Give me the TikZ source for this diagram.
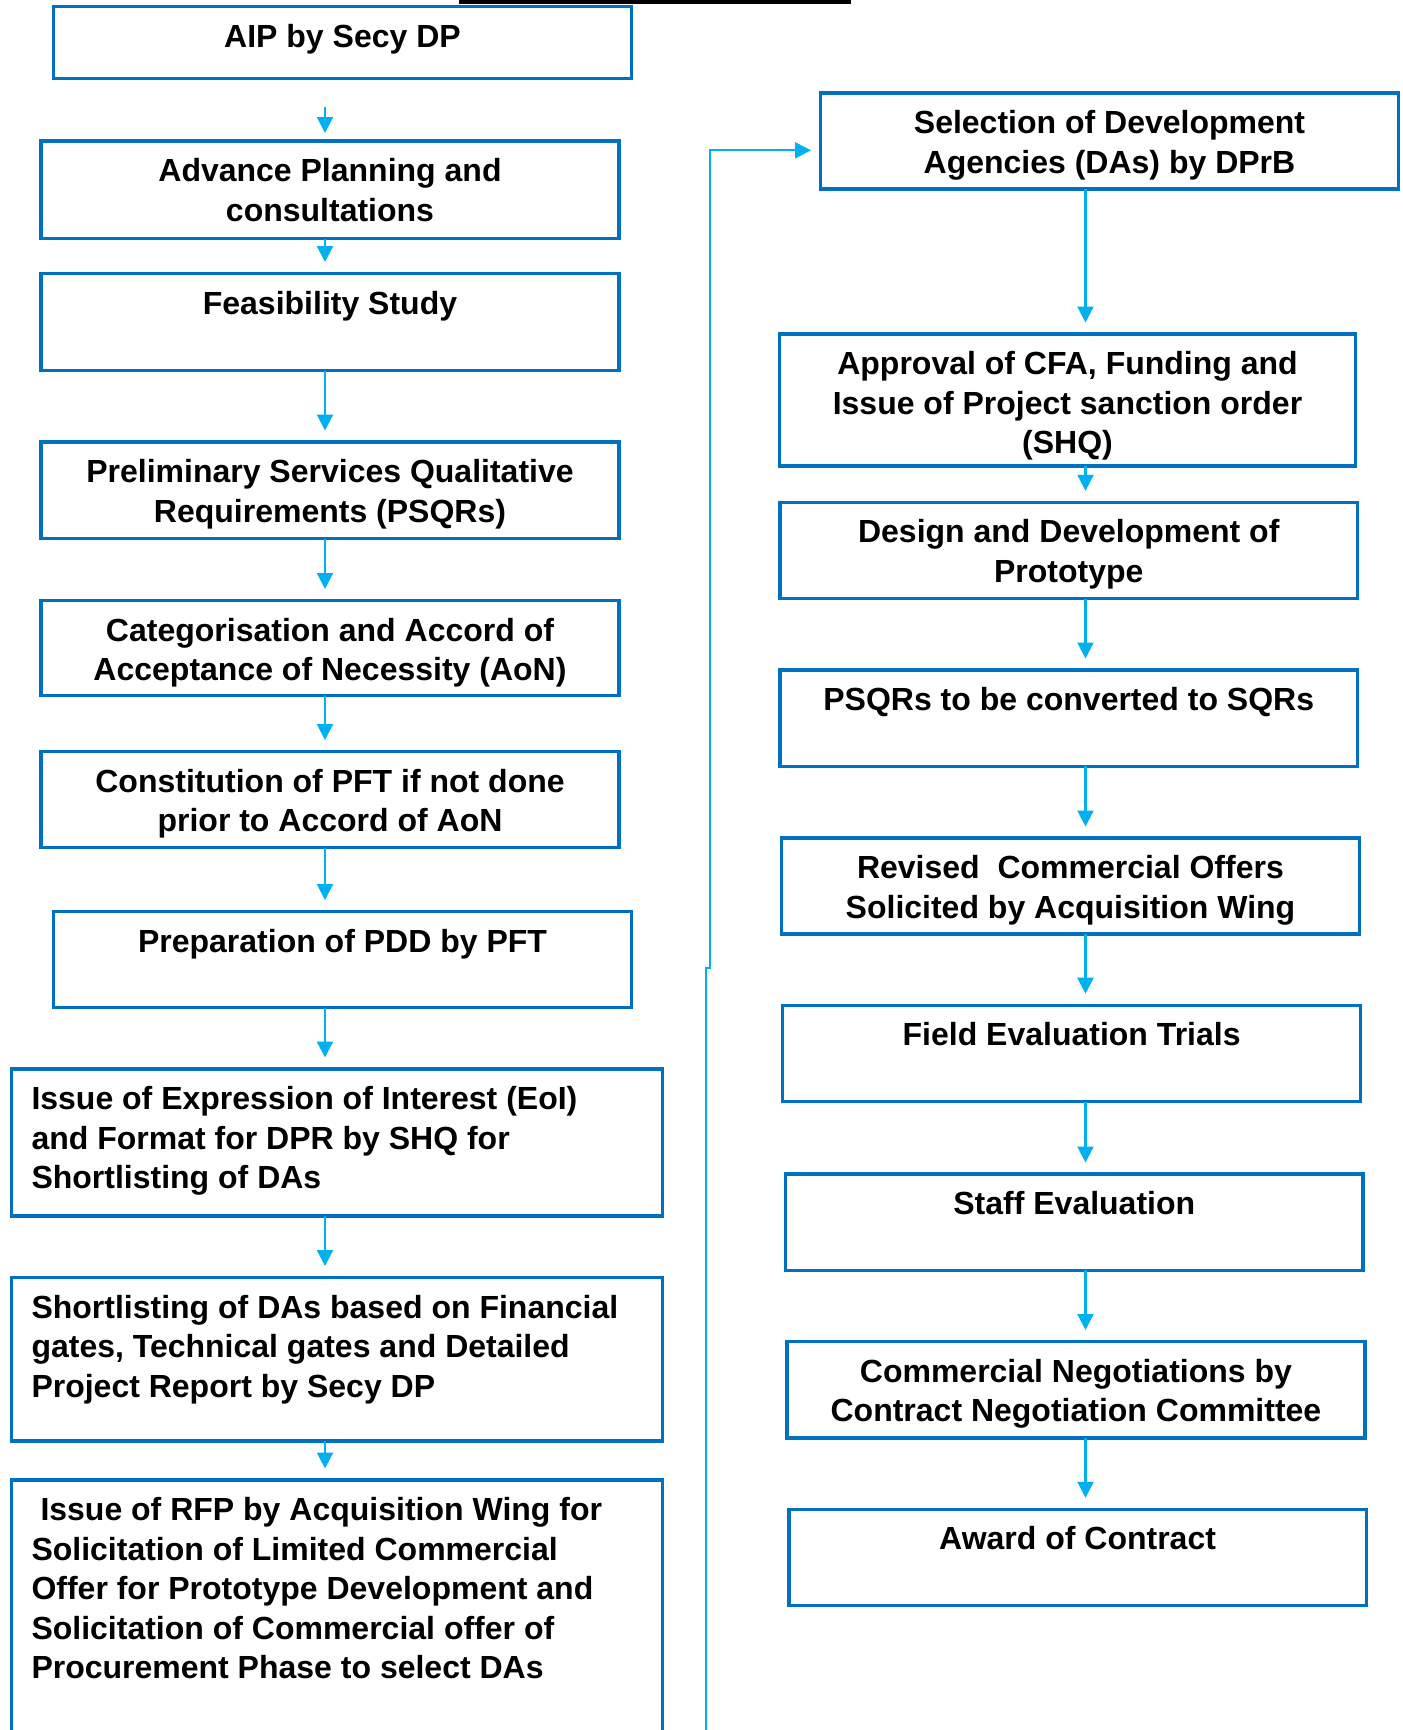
\documentclass[tikz,border=0pt]{standalone}
\usepackage{fontspec}
\setmainfont{Liberation Sans}
\usetikzlibrary{arrows.meta}
\definecolor{boxblue}{HTML}{0070C0}
\definecolor{arrblue}{HTML}{00B0F0}
\newcommand\tstrut{\rule{0pt}{25pt}}
\begin{document}
\begin{tikzpicture}[x=1pt,y=-1pt,
  box/.style={draw=boxblue, line width=3.4pt, inner sep=0pt, outer sep=0pt, anchor=north west},
  txt/.style={font=\bfseries\fontsize{32}{39.5}\selectfont, inner sep=0pt, outer sep=0pt, align=center, anchor=north},
  ltxt/.style={txt, align=left, anchor=north west},
  arr/.style={draw=arrblue, line width=2.2pt, -{Triangle[length=16pt,width=16pt]}, shorten >=11.5pt},
  conn/.style={draw=arrblue, line width=2pt, -{Triangle[length=16pt,width=16pt]}, shorten >=9.5pt}]
\useasboundingbox (0,0) rectangle (1403,1730);
% top bar (cut-off heading underline)
\fill[black] (459,0) rectangle (851,3.5);
% left column boxes
\node[box, minimum width=578pt, minimum height=72pt]   (b1)  at (53.5,6.5) {};
\node[box, minimum width=578pt, minimum height=97.5pt] (b2)  at (41,141) {};
\node[box, minimum width=578pt, minimum height=97pt]   (b3)  at (41,273.5) {};
\node[box, minimum width=578pt, minimum height=96.5pt] (b4)  at (41,442) {};
\node[box, minimum width=578pt, minimum height=95pt]   (b5)  at (41,600.5) {};
\node[box, minimum width=578pt, minimum height=96pt]   (b6)  at (41,751.5) {};
\node[box, minimum width=578pt, minimum height=96pt]   (b7)  at (53.5,911.5) {};
\node[box, minimum width=651pt, minimum height=147pt]  (b8)  at (11.5,1069) {};
\node[box, minimum width=651pt, minimum height=163.5pt] (b9) at (11.5,1277.5) {};
\node[box, minimum width=651pt, minimum height=300pt]  (b10) at (11.5,1480) {};
% right column boxes
\node[box, minimum width=578pt, minimum height=96pt] (r1) at (820.5,93) {};
\node[box, minimum width=576pt, minimum height=132pt]  (r2) at (779.5,334) {};
\node[box, minimum width=577.5pt, minimum height=96.2pt] (r3) at (780,502.3) {};
\node[box, minimum width=577.5pt, minimum height=96.2pt] (r4) at (780,670) {};
\node[box, minimum width=578.3pt, minimum height=96pt] (r5) at (781.3,838) {};
\node[box, minimum width=578.2pt, minimum height=96.3pt] (r6) at (782.5,1005.2) {};
\node[box, minimum width=577.2pt, minimum height=96.3pt] (r7) at (785.7,1174) {};
\node[box, minimum width=578.3pt, minimum height=96.5pt] (r8) at (786.8,1341.5) {};
\node[box, minimum width=577.2pt, minimum height=96.2pt] (r9) at (789,1509.3) {};
% texts left
\node[txt] (t1) at ([yshift=-15.5pt]b1.north) {\tstrut AIP by Secy DP};
\node[txt] (t2) at ([yshift=-15.5pt]b2.north) {\tstrut Advance Planning and\\consultations};
\node[txt] (t3) at ([yshift=-15.5pt]b3.north) {\tstrut Feasibility Study};
\node[txt] (t4) at ([yshift=-15.5pt]b4.north) {\tstrut Preliminary Services Qualitative\\Requirements (PSQRs)};
\node[txt] (t5) at ([yshift=-15.5pt]b5.north) {\tstrut Categorisation and Accord of\\Acceptance of Necessity (AoN)};
\node[txt] (t6) at ([yshift=-15.5pt]b6.north) {\tstrut Constitution of PFT if not done\\prior to Accord of AoN};
\node[txt] (t7) at ([yshift=-15.5pt]b7.north) {\tstrut Preparation of PDD by PFT};
\node[ltxt] (t8) at ([xshift=20pt,yshift=-15.5pt]b8.north west) {\tstrut Issue of Expression of Interest (EoI)\\and Format for DPR by SHQ for\\Shortlisting of DAs};
\node[ltxt] (t9) at ([xshift=20pt,yshift=-15.5pt]b9.north west) {\tstrut Shortlisting of DAs based on Financial\\gates, Technical gates and Detailed\\Project Report by Secy DP};
\node[ltxt] (t10) at ([xshift=20pt,yshift=-15.5pt]b10.north west) {\tstrut\hspace*{9pt}Issue of RFP by Acquisition Wing for\\Solicitation of Limited Commercial\\Offer for Prototype Development and\\Solicitation of Commercial offer of\\Procurement Phase to select DAs};
% texts right
\node[txt] (s1) at ([yshift=-15.5pt]r1.north) {\tstrut Selection of Development\\Agencies (DAs) by DPrB};
\node[txt] (s2) at ([yshift=-15.5pt]r2.north) {\tstrut Approval of CFA, Funding and\\Issue of Project sanction order\\(SHQ)};
\node[txt] (s3) at ([yshift=-15.5pt]r3.north) {\tstrut Design and Development of\\Prototype};
\node[txt] (s4) at ([yshift=-15.5pt]r4.north) {\tstrut PSQRs to be converted to SQRs};
\node[txt] (s5) at ([yshift=-15.5pt]r5.north) {\tstrut Revised~~Commercial Offers\\Solicited by Acquisition Wing};
\node[txt] (s6) at ([yshift=-15.5pt]r6.north) {\tstrut Field Evaluation Trials};
\node[txt] (s7) at ([yshift=-15.5pt]r7.north) {\tstrut Staff Evaluation};
\node[txt] (s8) at ([yshift=-15.5pt]r8.north) {\tstrut Commercial Negotiations by\\Contract Negotiation Committee};
\node[txt] (s9) at ([yshift=-15.5pt]r9.north) {\tstrut Award of Contract};
% arrow axes
\coordinate (LA) at (325,0);
\coordinate (RA) at (1085.5,0);
\coordinate (a0) at (325,107);
% left arrows
\draw[arr, shorten >=8pt] (a0) -- (b2.north -| LA);
\draw[arr] (b2.south -| LA) -- (b3.north -| LA);
\draw[arr] (b3.south -| LA) -- (b4.north -| LA);
\draw[arr] (b4.south -| LA) -- (b5.north -| LA);
\draw[arr] (b5.south -| LA) -- (b6.north -| LA);
\draw[arr] (b6.south -| LA) -- (b7.north -| LA);
\draw[arr] (b7.south -| LA) -- (b8.north -| LA);
\draw[arr] (b8.south -| LA) -- (b9.north -| LA);
\draw[arr] (b9.south -| LA) -- (b10.north -| LA);
% right arrows
\draw[arr] (r1.south -| RA) -- (r2.north -| RA);
\draw[arr] (r2.south -| RA) -- (r3.north -| RA);
\draw[arr] (r3.south -| RA) -- (r4.north -| RA);
\draw[arr] (r4.south -| RA) -- (r5.north -| RA);
\draw[arr] (r5.south -| RA) -- (r6.north -| RA);
\draw[arr] (r6.south -| RA) -- (r7.north -| RA);
\draw[arr] (r7.south -| RA) -- (r8.north -| RA);
\draw[arr] (r8.south -| RA) -- (r9.north -| RA);
% long connector from the bottom to the right column
\coordinate (c0) at (706,1740);
\coordinate (j1) at (706,968);
\coordinate (j2) at (710,968);
\coordinate (cR) at ([yshift=-9.3pt]r1.west);
\draw[conn] (c0) -- (j1) -- (j2) -- (j2 |- cR) -- (cR);
\end{tikzpicture}
\end{document}
